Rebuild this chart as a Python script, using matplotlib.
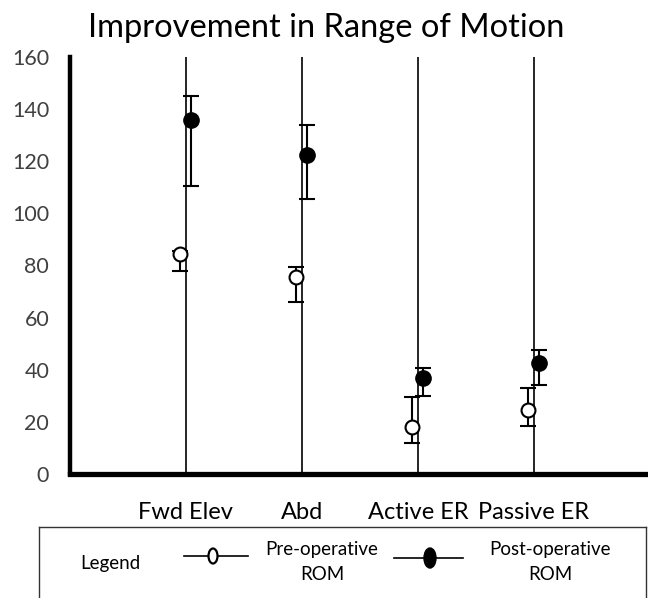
import matplotlib
matplotlib.use('Agg')
import matplotlib.pyplot as plt
from matplotlib.patches import Ellipse
from matplotlib.lines import Line2D

plt.rcParams['font.family'] = ['Lato', 'DejaVu Sans']

categories = ["Fwd Elev", "Abd", "Active ER", "Passive ER"]
pre_mean = [84.5, 75.5, 18, 24.5]
pre_err_low = [6.5, 9.5, 6, 6]
pre_err_high = [1, 4, 11.5, 8.5]
post_mean = [136, 122.5, 37, 42.5]
post_err_low = [25.5, 17, 7, 8.5]
post_err_high = [9, 11.5, 3.5, 5]
y_ticks = [0, 20, 40, 60, 80, 100, 120, 140, 160]

fig = plt.figure(figsize=(6.48, 5.98), dpi=100)
ax = fig.add_axes([0.108, 0.2074, 0.895, 0.6973])

xs = list(range(1, len(categories) + 1))
for x in xs:
    ax.plot([x, x], [0, 160], color='black', lw=1.2, zorder=1)

pre_x = [x - 0.055 for x in xs]
post_x = [x + 0.045 for x in xs]
ax.errorbar(pre_x, pre_mean, yerr=[pre_err_low, pre_err_high], fmt='o',
            mfc='white', mec='black', mew=1.5, ms=10, ecolor='black',
            elinewidth=1.5, capsize=6, capthick=1.5, zorder=3)
ax.errorbar(post_x, post_mean, yerr=[post_err_low, post_err_high], fmt='o',
            mfc='black', mec='black', ms=11, ecolor='black',
            elinewidth=1.5, capsize=6, capthick=1.5, zorder=3)

ax.set_xlim(0, 5)
ax.set_ylim(0, 160)
ax.set_yticks(y_ticks)
ax.set_yticklabels([str(v) for v in y_ticks], fontsize=15.5, color='#404040')
ax.set_xticks(xs)
ax.set_xticklabels(categories, fontsize=17, color='black')
ax.tick_params(axis='both', length=0)
ax.tick_params(axis='x', pad=20)
ax.tick_params(axis='y', pad=15)
for s in ['top', 'right']:
    ax.spines[s].set_visible(False)
ax.spines['left'].set_linewidth(3.2)
ax.spines['bottom'].set_linewidth(3.8)
ax.spines['left'].set_bounds(0, 160)

fig.text(0.503, 0.953, "Improvement in Range of Motion", ha='center', va='center',
         fontsize=23.5, color='black')

# legend box drawn in pixel coordinates
lg = fig.add_axes([0, 0, 1, 1], zorder=5)
lg.set_xlim(0, 648)
lg.set_ylim(598, 0)
lg.axis('off')
lg.add_line(Line2D([39, 646], [527, 527], color='#333333', lw=1))
lg.add_line(Line2D([39, 39], [527, 598], color='#333333', lw=1))
lg.add_line(Line2D([646, 646], [527, 598], color='#333333', lw=1))
lg.text(110, 563, "Legend", ha='center', va='center', fontsize=13.5)
lg.add_line(Line2D([184, 248], [556, 556], color='black', lw=1.2))
lg.add_patch(Ellipse((213, 556), 9, 15, fc='white', ec='black', lw=1.6, zorder=6))
lg.text(322, 562, "Pre-operative\nROM", ha='center', va='center', fontsize=13.5,
        linespacing=1.55)
lg.add_line(Line2D([394, 463], [558, 558], color='black', lw=1.2))
lg.add_patch(Ellipse((430, 558), 12, 20, fc='black', ec='black', zorder=6))
lg.text(550, 562, "Post-operative\nROM", ha='center', va='center', fontsize=13.5,
        linespacing=1.55)

fig.savefig("out.png", dpi=100)
